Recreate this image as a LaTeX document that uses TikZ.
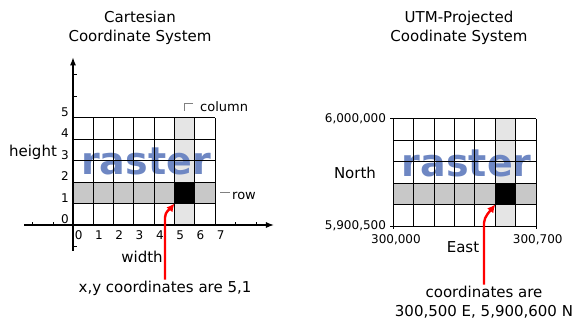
\documentclass[tikz,border=0pt]{standalone}
\usepackage{fontspec}
\setmainfont{DejaVu Sans}
\usetikzlibrary{arrows.meta}

\definecolor{rowgray}{RGB}{200,200,200}
\definecolor{colgray}{RGB}{229,229,229}
\definecolor{rastblue}{RGB}{110,135,195}

\tikzset{
    txt/.style={font=\fontsize{15}{19}\selectfont, inner sep=1pt},
    smalltxt/.style={font=\fontsize{13}{15}\selectfont, inner sep=1pt},
    num/.style={font=\fontsize{12}{13}\selectfont, inner sep=1pt},
    raster/.style={font=\fontsize{38}{40}\selectfont\bfseries, text=rastblue, anchor=base},
    gridline/.style={line width=1pt},
    axis/.style={line width=1.2pt, -{Latex[length=8pt,width=6pt]}},
    leader/.style={gray, line width=0.6pt},
    pointer/.style={red, line width=2.4pt, -{Latex[length=8pt,width=8pt]}},
}

\begin{document}
\begin{tikzpicture}[x=1pt, y=-1pt]
        \useasboundingbox (0,0) rectangle (579,322);

        % Titles
        \node[txt, align=center] (ltitle) at (140,28) {Cartesian\\Coordinate System};
        \node[txt, align=center] (rtitle) at (459,28) {UTM-Projected\\Coodinate System};

        % Cartesian grid
        \begin{scope}[shift={(73,225)}, x=20.3pt, y=21.5pt]
            \fill[colgray] (5,0) rectangle (6,5);
            \fill[rowgray] (0,1) rectangle (7,2);
            \node[raster] (lraster) at (3.6,2.35) {raster};
            \fill (5,1) rectangle (6,2);
            \foreach \x in {0,...,7} {
                \draw[gridline] (\x,0) -- (\x,5); % Columns
                \node[num, anchor=north west] (lx\x) at ({\x+0.03},-0.2) {\x}; % Labels
            }
            \foreach \y in {0,...,5} {
                \draw[gridline] (0,\y) -- (7,\y); % Rows
                \node[num, anchor=south east] (ly\y) at (-0.15,\y) {\y}; % Labels
            }
            % Axes with ticks
            \draw[axis] (0,-1.2) -- (0,7.8);
            \draw[axis] (-2.4,0) -- (9.9,0);
            \foreach \y in {-1,6,7} \draw (0,\y) -- (0.2,\y);
            \foreach \x in {-2,-1,8,9} \draw (\x,0) -- (\x,0.12);
            \coordinate (lcell) at (5,1);
        \end{scope}

        % UTM grid
        \begin{scope}[shift={(393.3,226)}, x=20.4pt, y=21.5pt]
            \fill[colgray] (5,0) rectangle (6,5);
            \fill[rowgray] (0,1) rectangle (7,2);
            \node[raster] (rraster) at (3.6,2.3) {raster};
            \fill (5,1) rectangle (6,2);
            \foreach \x in {0,...,7} \draw[gridline] (\x,0) -- (\x,5);
            \foreach \y in {0,...,5} \draw[gridline] (0,\y) -- (7,\y);
            % Corner ticks
            \draw (0,5) -- (-0.15,5);
            \draw (0,0) -- (-0.15,0);
            \draw (0,0) -- (0,-0.12);
            \draw (7,0) -- (7,-0.12);
            \node[num, anchor=east] (rtop) at (-0.3,5) {6,000,000};
            \node[num, anchor=east] (rbottom) at (-0.3,0) {5,900,500};
            \node[num, anchor=north] (rwest) at (0.13,-0.33) {300,000};
            \node[num, anchor=north] (reast) at (7.08,-0.33) {300,700};
            \coordinate (rcell) at (5,1);
        \end{scope}

        % Axis names
        \node[txt] (height) at (33,152) {height};
        \node[txt] (width) at (142,257) {width};
        \node[txt] (north) at (355,173) {North};
        \node[txt] (east) at (463,247) {East};

        % Column and row names
        \node[smalltxt, anchor=west] (colname) at (199,107) {column};
        \node[smalltxt, anchor=west] (rowname) at (231,196) {row};
        \draw[leader] (colname.west) ++(-6,-4) -- ++(-9,0) -- ++(0,8);
        \draw[leader] (rowname.west) ++(-1,-4) -- ++(-10,0);

        % Notes with pointers
        \node[txt] (lnote) at (165,288) {x,y coordinates are 5,1};
        \node[txt, align=center] (rnote) at (484,302) {coordinates are\\300,500 E, 5,900,600 N};
        \draw[pointer] (lnote.north) -- ++(0,-62) .. controls +(0,-6) and +(-4,5) .. (lcell);
        \draw[pointer] (rnote.north) -- ++(0,-62) .. controls +(0,-6) and +(-4,5) .. (rcell);
\end{tikzpicture}
\end{document}
